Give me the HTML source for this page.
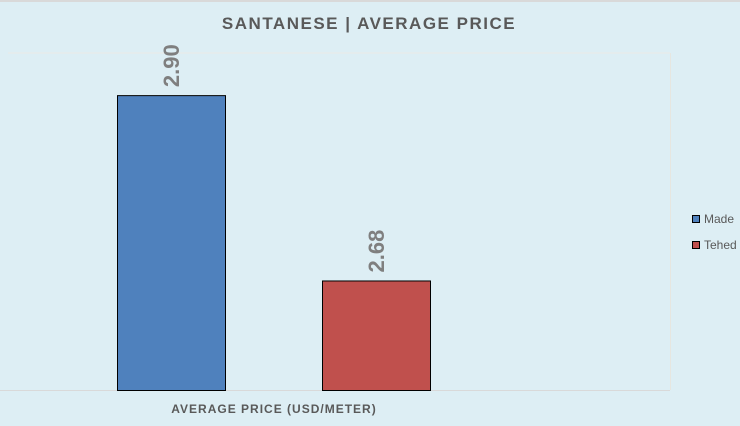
<!DOCTYPE html>
<html><head><meta charset="utf-8"><style>
body{margin:0;background:#ddeef4;}
svg{display:block;font-family:"Liberation Sans",sans-serif;}
</style></head><body>
<svg width="740" height="426" id="c">
<rect x="0" y="0" width="740" height="426" fill="#ddeef4"/>
<rect x="0" y="0" width="740" height="2" fill="#d9d9d9"/>
<text x="369" y="29" text-anchor="middle" font-size="17" font-weight="bold" fill="#595959" letter-spacing="1.5">SANTANESE |  AVERAGE PRICE</text>
<line x1="8" y1="53" x2="670" y2="53" stroke="#ebebe6" stroke-width="1"/>
<line x1="670.5" y1="53" x2="670.5" y2="390" stroke="#e6e6e0" stroke-width="1"/>
<line x1="0" y1="390.5" x2="670" y2="390.5" stroke="#d9d9d9" stroke-width="1"/>
<g id="bars"></g>
<text x="274" y="413" text-anchor="middle" font-size="12" font-weight="bold" fill="#595959" letter-spacing="1">AVERAGE PRICE (USD/METER)</text>
<g>
<g><rect x="692.5" y="215.5" width="7" height="7" fill="#4f81bd" stroke="#000"/><text x="704" y="223" font-size="12" fill="#595959">Made</text></g>
<g><rect x="692.5" y="241.5" width="7" height="7" fill="#c0504d" stroke="#000"/><text x="704" y="249" font-size="12" fill="#595959">Tehed</text></g>
</g>
</svg>
<script>
const categories = ["Made", "Tehed"];
const values = [2.90, 2.68];
const valueLabels = ["2.90", "2.68"];
const colors = ["#4f81bd", "#c0504d"];
const yMin = 2.55, yMax = 2.95;
const plotTop = 53, plotBottom = 390;
function yScale(v){ return plotBottom - (v - yMin) / (yMax - yMin) * (plotBottom - plotTop); }
function xCenter(i){ return 171 + i * 205; }
const g = document.getElementById('bars');
const NS = "http://www.w3.org/2000/svg";
values.forEach((v, i) => {
  const y = yScale(v), cx = xCenter(i), w = 108;
  const r = document.createElementNS(NS, 'rect');
  r.setAttribute('x', cx - w/2 + 0.5); r.setAttribute('y', y + 0.5);
  r.setAttribute('width', w); r.setAttribute('height', plotBottom - y);
  r.setAttribute('fill', colors[i]); r.setAttribute('stroke', '#000'); r.setAttribute('stroke-width', '1');
  
  
  g.appendChild(r);
  const t = document.createElementNS(NS, 'text');
  const ty = y - 8;
  t.setAttribute('x', cx + 8); t.setAttribute('y', ty);
  t.setAttribute('transform', 'rotate(-90 ' + (cx + 8) + ' ' + ty + ')');
  t.setAttribute('font-size', '22'); t.setAttribute('font-weight', 'bold'); t.setAttribute('fill', '#7f7f7f');
  t.textContent = valueLabels[i];
  
  
  g.appendChild(t);
});
</script>
</body></html>
